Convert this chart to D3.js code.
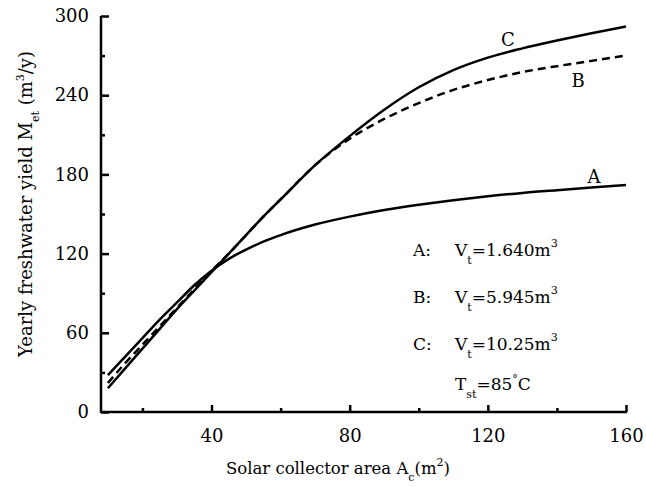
<!DOCTYPE html>
<html>
<head>
<meta charset="utf-8">
<script src="https://d3js.org/d3.v7.min.js"></script>
<style>
  body { margin: 0; background: #fff; }
</style>
</head>
<body>
<script>
// collector area (m2) shared by all three curves
const area = [10, 15, 20, 25, 30, 35, 40, 45, 50, 55, 60, 70, 80, 90, 100, 110, 120, 130, 140, 150, 160];
// yearly freshwater yield (m3/y)
const yieldA = [28, 42, 56, 70, 83, 96, 107, 116, 123, 129, 134, 142, 148, 153, 157, 160.5, 163.5, 166, 168, 170, 172];
const yieldB = [22, 37, 51, 65, 79, 93, 107, 120, 134, 148, 161, 187, 207, 222, 234, 244, 251.5, 257.5, 262, 266, 270];
const yieldC = [18, 33, 48, 63, 78, 92, 106, 120, 134, 148, 161, 187, 209, 229, 246, 259, 268.5, 275.5, 281.5, 287, 292];
const xTicks = [40, 80, 120, 160];
const xMinor = [20, 60, 100, 140];
const yTicks = [0, 60, 120, 180, 240, 300];
const yMinor = [30, 90, 150, 210, 270];

const FONT = "DejaVu Serif";
const FS = "17px";   // legend / label size
const SS = "11px";   // sub/superscript size
const WIDTH = 646, HEIGHT = 487;
const svg = d3.select("body").append("svg")
  .attr("width", WIDTH)
  .attr("height", HEIGHT)
  .style("font-family", FONT);

const m = {left: 101, right: 626, top: 16, bottom: 412};

const x = d3.scaleLinear().domain([8, 160]).range([m.left, m.right]);
const y = d3.scaleLinear().domain([0, 300]).range([m.bottom, m.top]);

// axes: ticks point inward
const gx = svg.append("g").attr("transform", "translate(0," + m.bottom + ")");
gx.call(d3.axisBottom(x).tickValues(xTicks).tickSize(-7).tickPadding(17).tickFormat(d3.format("d")));
gx.append("g").call(d3.axisBottom(x).tickValues(xMinor).tickSize(-4).tickFormat(""));

const gy = svg.append("g").attr("transform", "translate(" + m.left + ",0)");
gy.call(d3.axisLeft(y).tickValues(yTicks).tickSize(-8).tickPadding(12).tickFormat(d3.format("d")));
gy.append("g").call(d3.axisLeft(y).tickValues(yMinor).tickSize(-4).tickFormat(""));

svg.selectAll("g").attr("font-family", null);

// plain axis lines instead of the d3 domain paths
svg.selectAll(".domain").remove();
svg.append("line").attr("x1", m.left).attr("x2", m.right + 1).attr("y1", m.bottom).attr("y2", m.bottom)
  .attr("stroke", "#000").attr("stroke-width", 2.5);
svg.append("line").attr("x1", m.left).attr("x2", m.left).attr("y1", m.top).attr("y2", m.bottom + 1)
  .attr("stroke", "#000").attr("stroke-width", 2.5);

svg.selectAll(".tick line").attr("stroke-width", 2.5);
svg.selectAll(".tick text").style("font-size", "18px").style("font-family", FONT);

// curves
const line = d3.line().x((d, i) => x(area[i])).y(d => y(d)).curve(d3.curveMonotoneX);
const series = [
  {vals: yieldA, dash: null},
  {vals: yieldB, dash: "8,5"},
  {vals: yieldC, dash: null}
];
svg.selectAll(".curve").data(series).enter().append("path")
  .attr("class", "curve")
  .attr("d", d => line(d.vals))
  .attr("fill", "none")
  .attr("stroke", "#000")
  .attr("stroke-width", 2.5)
  .attr("stroke-dasharray", d => d.dash);

// curve labels
svg.append("text").attr("x", 508).attr("y", 46).attr("text-anchor", "middle").style("font-size", "18px").text("C");
svg.append("text").attr("x", 578).attr("y", 87).attr("text-anchor", "middle").style("font-size", "18px").text("B");
svg.append("text").attr("x", 594).attr("y", 183).attr("text-anchor", "middle").style("font-size", "18px").text("A");

// legend text
const legend = [["A:", "1.640"], ["B:", "5.945"], ["C:", "10.25"]];
legend.forEach((l, i) => {
  const base = 256 + i * 47;
  svg.append("text").attr("x", 413).attr("y", base).style("font-size", FS).text(l[0]);
  const t = svg.append("text").attr("x", 455).attr("y", base).style("font-size", FS);
  t.append("tspan").text("V");
  t.append("tspan").attr("dy", 8).style("font-size", SS).text("t");
  t.append("tspan").attr("dy", -8).text("=" + l[1] + "m");
  t.append("tspan").attr("dy", -9).style("font-size", SS).text("3");
});
const ts = svg.append("text").attr("x", 455).attr("y", 390).style("font-size", FS);
ts.append("tspan").text("T");
ts.append("tspan").attr("dy", 8).style("font-size", SS).text("st");
ts.append("tspan").attr("dy", -8).text("=85");
ts.append("tspan").attr("dy", -7).style("font-size", SS).text("°");
ts.append("tspan").attr("dy", 7).text("C");

// axis titles
const xt = svg.append("text").attr("x", 338).attr("y", 474).attr("text-anchor", "middle").style("font-size", "16.5px");
xt.append("tspan").text("Solar collector area  A");
xt.append("tspan").attr("dy", 7).style("font-size", SS).text("c");
xt.append("tspan").attr("dy", -7).text("(m");
xt.append("tspan").attr("dy", -8).style("font-size", SS).text("2");
xt.append("tspan").attr("dy", 8).text(")");

const yt = svg.append("text").attr("transform", "translate(32,204) rotate(-90)")
  .attr("text-anchor", "middle").style("font-size", "18px");
yt.append("tspan").text("Yearly freshwater yield  M");
yt.append("tspan").attr("dy", 7).style("font-size", SS).text("et");
yt.append("tspan").attr("dy", -7).text(" (m");
yt.append("tspan").attr("dy", -8).style("font-size", SS).text("3");
yt.append("tspan").attr("dy", 8).text("/y)");
</script>
</body>
</html>
